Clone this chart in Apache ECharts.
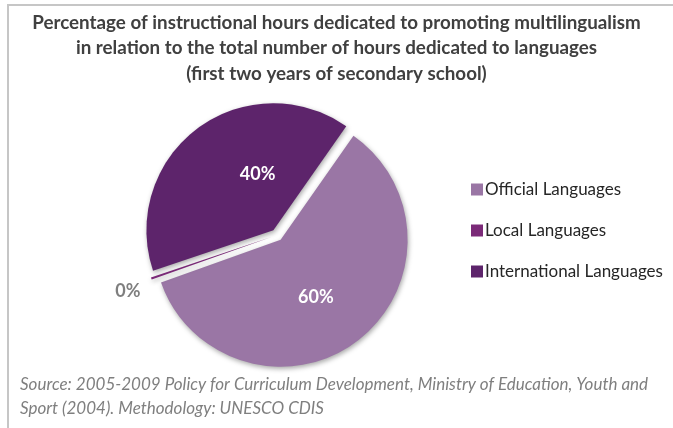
<!DOCTYPE html>
<html>
<head>
<meta charset="utf-8">
<script src="https://cdn.jsdelivr.net/npm/echarts@6/dist/echarts.min.js"></script>
<style>
  html, body { margin: 0; padding: 0; background: #ffffff; }
  #chart { width: 673px; height: 428px; }
</style>
</head>
<body>
<div id="chart"></div>
<script>
// Share of language instruction hours, first two years of secondary school
const categories = ['Official Languages', 'Local Languages', 'International Languages'];
const shares = [60, 0, 40];
const colors = ['#9a76a5', '#7b2a78', '#5d246b'];

const titleLines = [
  'Percentage of instructional hours dedicated to promoting multilingualism',
  'in relation to the total number of hours dedicated to languages',
  '(first two years of secondary school)'
];
const sourceLines = [
  'Source: 2005-2009 Policy for Curriculum Development, Ministry of Education, Youth and',
  'Sport (2004). Methodology: UNESCO CDIS'
];

const FONT = 'Lato, "Open Sans", sans-serif';

// nudges for the percentage labels
const labelShift = [[-5, 5], [-3, 11], [24, -3]];

const chart = echarts.init(document.getElementById('chart'), null, { renderer: 'canvas' });

chart.setOption({
  backgroundColor: '#ffffff',
  animation: false,
  title: {
    text: titleLines.join('\n'),
    left: 'center',
    top: 5,
    textStyle: {
      fontFamily: FONT,
      fontSize: 18.8,
      fontWeight: 'bold',
      color: '#404040',
      lineHeight: 25.5
    }
  },
  legend: {
    orient: 'vertical',
    left: 466,
    top: 176,
    itemWidth: 12,
    itemHeight: 12,
    itemGap: 24,
    icon: 'rect',
    selectedMode: false,
    textStyle: { fontFamily: FONT, fontSize: 17, color: '#262626', padding: [0, 0, 0, -3] },
    data: categories
  },
  graphic: [
    {
      type: 'polyline',
      shape: { points: [[8, 428], [8, 5], [673, 5]] },
      style: { stroke: '#c6c6c6', lineWidth: 2, fill: null },
      silent: true
    },
    {
      type: 'text',
      left: 20,
      top: 373,
      style: {
        text: sourceLines.join('\n'),
        font: 'italic 17px ' + FONT,
        fill: '#7f7f7f',
        lineHeight: 24
      },
      silent: true
    }
  ],
  series: [{
    type: 'pie',
    center: [277, 235],
    radius: 127,
    startAngle: 55,
    minAngle: 1,
    clockwise: true,
    selectedMode: 'multiple',
    selectedOffset: 6,
    avoidLabelOverlap: false,
    itemStyle: {
      shadowBlur: 5,
      shadowColor: 'rgba(0,0,0,0.35)',
      shadowOffsetX: 1,
      shadowOffsetY: 2
    },
    label: {
      show: true,
      position: 'inside',
      formatter: '{c}%',
      fontFamily: FONT,
      fontSize: 18,
      fontWeight: 'bold',
      color: '#ffffff'
    },
    labelLine: { show: false },
    labelLayout: function (p) {
      const s = labelShift[p.dataIndex];
      return { dx: s[0], dy: s[1] };
    },
    emphasis: { disabled: true },
    data: categories.map(function (name, i) {
      const item = {
        name: name,
        value: shares[i],
        selected: true,
        itemStyle: { color: colors[i] }
      };
      if (shares[i] === 0) {
        item.label = {
          position: 'outside',
          color: '#7f7f7f',
          distanceToLabelLine: 0
        };
        item.labelLine = { show: false, length: 4, length2: 4 };
      }
      return item;
    })
  }]
});
</script>
</body>
</html>
